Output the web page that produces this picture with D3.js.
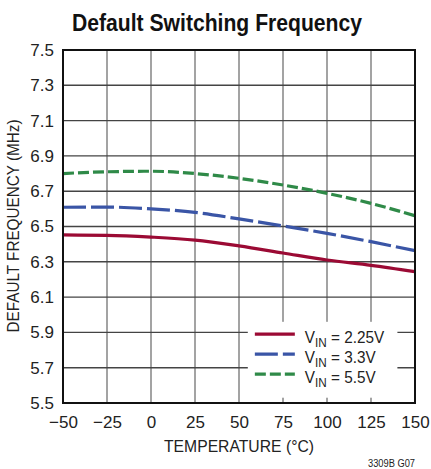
<!DOCTYPE html>
<html>
<head>
<meta charset="utf-8">
<script src="https://cdn.jsdelivr.net/npm/d3@7"></script>
<style>
  body { margin: 0; background: #fff; }
  svg { display: block; }
  text { font-family: "Liberation Sans Narrow", "Liberation Sans", Arial, sans-serif; fill: #222; }
</style>
</head>
<body>
<svg id="chart" width="431" height="469"></svg>
<script>
// donnees
const temps = [-50, -25, 0, 25, 50, 75, 100, 125, 150];
const vin225 = [6.452, 6.45, 6.44, 6.423, 6.39, 6.35, 6.31, 6.28, 6.244];
const vin33 = [6.609, 6.61, 6.60, 6.58, 6.543, 6.503, 6.461, 6.414, 6.363];
const vin55 = [6.80, 6.81, 6.813, 6.80, 6.773, 6.735, 6.688, 6.631, 6.561];
const xTicks = [-50, -25, 0, 25, 50, 75, 100, 125, 150];
const yTicks = [5.5, 5.7, 5.9, 6.1, 6.3, 6.5, 6.7, 6.9, 7.1, 7.3, 7.5];
const seriesNames = ["2.25V", "3.3V", "5.5V"];

const margin = { top: 50, right: 16, bottom: 66, left: 63 };
const width = 431 - margin.left - margin.right;
const height = 469 - margin.top - margin.bottom;

const svg = d3.select("#chart");

// titre (police etroite simulee)
svg.append("text")
    .attr("x", 217).attr("y", 31)
    .attr("text-anchor", "middle")
    .attr("font-size", 24).attr("font-weight", "bold")
    .attr("textLength", 290).attr("lengthAdjust", "spacingAndGlyphs")
    .style("fill", "#111")
    .text("Default Switching Frequency");

const g = svg.append("g").attr("transform", `translate(${margin.left},${margin.top})`);

const x = d3.scaleLinear().domain([-50, 150]).range([0, width]);
const y = d3.scaleLinear().domain([5.5, 7.5]).range([height, 0]);

// grille verticale
g.selectAll(".vgrid").data(xTicks)
    .join("line")
    .attr("class", "vgrid")
    .attr("x1", d => x(d)).attr("x2", d => x(d))
    .attr("y1", 0).attr("y2", height)
    .attr("stroke", "#999").attr("stroke-width", 1.8);

// grille horizontale
g.selectAll(".hgrid").data(yTicks)
    .join("line")
    .attr("class", "hgrid")
    .attr("x1", 0).attr("x2", width)
    .attr("y1", d => y(d)).attr("y2", d => y(d))
    .attr("stroke", "#444").attr("stroke-width", 1.4);

// courbes
const series = [
    { name: seriesNames[0], values: vin225, color: "#9b0a34", dash: null },
    { name: seriesNames[1], values: vin33, color: "#3a55a6", dash: "23,5" },
    { name: seriesNames[2], values: vin55, color: "#2f8a48", dash: "11,4" }
];

const line = d3.line()
    .x((d, i) => x(temps[i]))
    .y(d => y(d))
    .curve(d3.curveMonotoneX);

g.selectAll(".serie").data(series)
    .join("path")
    .attr("class", "serie")
    .attr("d", d => line(d.values))
    .attr("fill", "none")
    .attr("stroke", d => d.color)
    .attr("stroke-width", 3.2)
    .attr("stroke-dasharray", d => d.dash);

// legende (fond blanc)
const legX = x(55), legY = y(5.96);
g.append("rect")
    .attr("x", legX).attr("y", legY)
    .attr("width", x(140) - legX).attr("height", y(5.53) - legY)
    .attr("fill", "#fff");

const leg = g.selectAll(".leg").data(series)
    .join("g")
    .attr("class", "leg")
    .attr("transform", (d, i) => `translate(${x(59)},${y(5.89) + i * 20})`);

leg.append("line")
    .attr("x1", 0).attr("x2", 40)
    .attr("stroke", d => d.color)
    .attr("stroke-width", 3.2)
    .attr("stroke-dasharray", d => d.dash);

const lt = leg.append("text")
    .attr("transform", "translate(50,9) scale(0.9,1)")
    .attr("font-size", 17);
lt.append("tspan").text("V");
lt.append("tspan").attr("font-size", 13).attr("dy", 4).text("IN");
lt.append("tspan").attr("dy", -4).text(d => " = " + d.name);

// cadre
g.append("rect")
    .attr("width", width).attr("height", height)
    .attr("fill", "none").attr("stroke", "#111").attr("stroke-width", 2);

// axes
const xAxis = d3.axisBottom(x).tickValues(xTicks).tickSize(0).tickPadding(13)
    .tickFormat(d => d < 0 ? "\u2212" + Math.abs(d) : d);
g.append("g").attr("transform", `translate(0,${height})`).call(xAxis)
    .call(a => a.select(".domain").remove())
    .selectAll("text").attr("font-size", 17).style("font-family", null).style("fill", "#222");

const yAxis = d3.axisLeft(y).tickValues(yTicks).tickSize(0).tickPadding(9)
    .tickFormat(d3.format(".1f"));
g.append("g").call(yAxis)
    .call(a => a.select(".domain").remove())
    .selectAll("text").attr("font-size", 17).style("font-family", null).style("fill", "#222");

// titres d'axes
svg.append("text")
    .attr("x", margin.left + width / 2).attr("y", 452)
    .attr("text-anchor", "middle").attr("font-size", 17)
    .attr("textLength", 150).attr("lengthAdjust", "spacingAndGlyphs")
    .text("TEMPERATURE (°C)");

svg.append("text")
    .attr("transform", "translate(19,226) rotate(-90)")
    .attr("text-anchor", "middle").attr("font-size", 16)
    .attr("textLength", 213).attr("lengthAdjust", "spacingAndGlyphs")
    .text("DEFAULT FREQUENCY (MHz)");

svg.append("text")
    .attr("x", 415).attr("y", 467)
    .attr("text-anchor", "end").attr("font-size", 10)
    .attr("textLength", 47).attr("lengthAdjust", "spacingAndGlyphs")
    .text("3309B G07");
</script>
</body>
</html>
